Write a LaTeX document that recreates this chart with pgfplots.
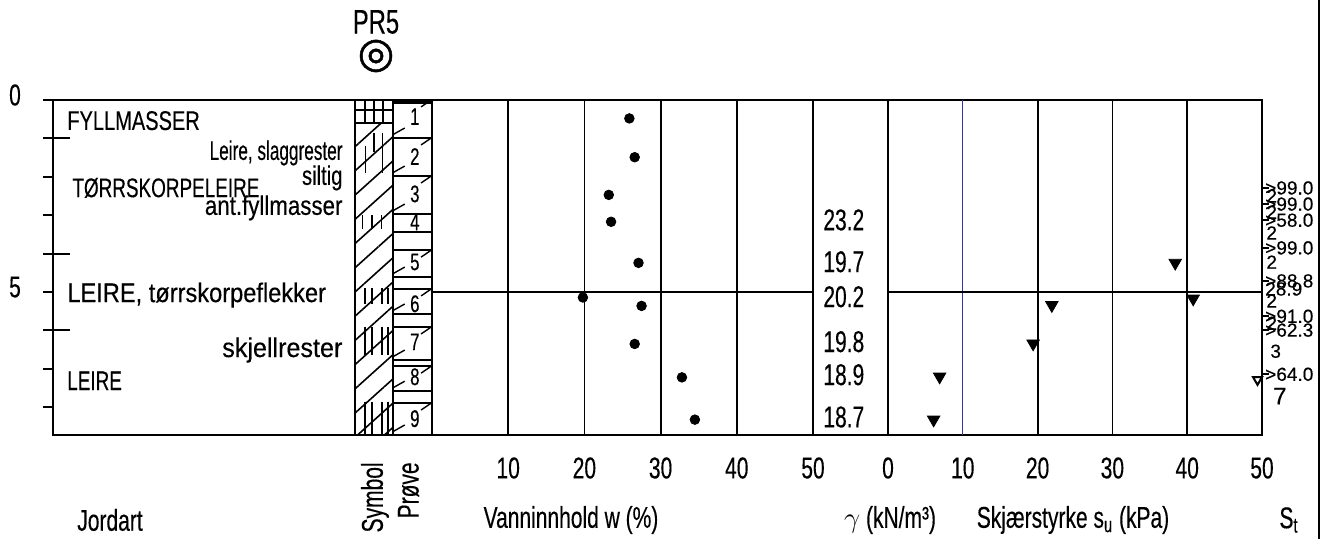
\documentclass[border=0pt]{standalone}
\usepackage{fontspec}
\setmainfont[FakeStretch=0.7,FakeBold=0.3]{Liberation Sans}
\newfontfamily\stfont[FakeStretch=1.0,FakeBold=0.3]{Liberation Sans}
\newfontfamily\symfont[FakeBold=1.2]{DejaVu Sans}
\usepackage{pgfplots}
\pgfplotsset{compat=1.18}
\usetikzlibrary{patterns.meta}
\definecolor{gridblue}{RGB}{50,50,170}
\pgfplotsset{
  colbox/.style={scale only axis, anchor=south west, height=167.5pt,
    ymin=0, ymax=8.72, y dir=reverse, clip=false,
    axis line style={line width=1.3pt, black},
    xtick=\empty, ytick=\empty},
  txt/.style={only marks, mark=none, nodes near coords, point meta=explicit symbolic},
  jt/.style n args={3}{only marks, mark=none, nodes near coords={#3},
    every node near coord/.append style={anchor=#1, xscale=#2, inner sep=0pt, font=\fontsize{13.5}{15}\selectfont}},
  seg/.style={black, line width=0.8pt, unbounded coords=jump, mark=none},
}
\begin{document}
\begin{tikzpicture}
\useasboundingbox (0,0) rectangle (661pt,269.5pt);

% ---------------- Jordart column
\begin{axis}[colbox, at={(26.5pt,52pt)}, width=151pt, xmin=0, xmax=1,
  ytick={0,1,2,3,4,5,6,7,8}, yticklabels={0,,,,,5,,,},
  tickpos=left, tick align=outside, major tick length=5pt,
  major tick style={line width=1pt,black},
  extra y ticks={1,4,6}, extra y tick labels={},
  extra y tick style={tick align=inside, major tick length=8.5pt},
  yticklabel style={anchor=center, xshift=-14pt, yshift=2.5pt, font=\fontsize{15}{17}\selectfont}]
\addplot[jt={base west}{1.06}{FYLLMASSER}] coordinates {(0.046,0.78)};
\addplot[jt={base west}{1}{TØRRSKORPELEIRE}] coordinates {(0.063,2.53)};
\addplot[jt={base west}{1.25}{LEIRE, tørrskorpeflekker}] coordinates {(0.046,5.26)};
\addplot[jt={base west}{1}{LEIRE}] coordinates {(0.046,7.55)};
\addplot[jt={base east}{0.91}{Leire, slaggrester}] coordinates {(0.96,1.56)};
\addplot[jt={base east}{1.07}{siltig}] coordinates {(0.96,2.21)};
\addplot[jt={base east}{1.18}{ant.fyllmasser}] coordinates {(0.96,2.99)};
\addplot[jt={base east}{1.33}{skjellrester}] coordinates {(0.96,6.69)};
\end{axis}

% ---------------- Symbol column
\begin{axis}[colbox, at={(177.5pt,52pt)}, width=19pt, xmin=0, xmax=1]
\addplot[draw=none, pattern={Lines[angle=42,distance=9pt,line width=0.8pt]}]
  coordinates {(0,0.6)(1,0.6)(1,8.72)(0,8.72)};
\addplot[seg] coordinates {(0,0.26)(1,0.26)(nan,nan)(0,0.6)(1,0.6)(nan,nan)(0.26,0)(0.26,0.6)(nan,nan)(0.5,0)(0.5,0.6)(nan,nan)(0.74,0)(0.74,0.6)};
\addplot[seg] coordinates {(0.28,1.2)(0.28,1.9)(nan,nan)(0.5,0.85)(0.5,1.35)(nan,nan)(0.72,0.85)(0.72,1.9)};
\addplot[seg] coordinates {(0.2,3.0)(0.2,3.35)(nan,nan)(0.45,3.0)(0.45,3.35)(nan,nan)(0.7,3.0)(0.7,3.35)};
\addplot[seg] coordinates {(0.26,4.9)(0.26,5.3)(nan,nan)(0.45,4.9)(0.45,5.3)(nan,nan)(0.71,4.9)(0.71,5.3)(nan,nan)(0.87,4.9)(0.87,5.3)};
\addplot[seg] coordinates {(0.26,5.9)(0.26,6.65)(nan,nan)(0.45,5.9)(0.45,6.65)(nan,nan)(0.71,5.9)(0.71,6.65)(nan,nan)(0.87,5.9)(0.87,6.65)};
\addplot[seg] coordinates {(0.26,7.85)(0.26,8.72)(nan,nan)(0.45,7.85)(0.45,8.72)(nan,nan)(0.71,7.85)(0.71,8.72)(nan,nan)(0.87,7.85)(0.87,8.72)};
\end{axis}

% ---------------- Prove column
\begin{axis}[colbox, at={(196.5pt,52pt)}, width=19.5pt, xmin=0, xmax=1]
\addplot[black, line width=2.5pt] coordinates {(0,0.04)(1,0.04)};
\addplot[seg, line width=0.9pt] coordinates {(0,0.99)(1,0.99)(nan,nan)(0,1.98)(1,1.98)(nan,nan)(0,2.97)(1,2.97)(nan,nan)(0,3.44)(1,3.44)(nan,nan)(0,3.91)(1,3.91)(nan,nan)(0,4.61)(1,4.61)(nan,nan)(0,4.92)(1,4.92)(nan,nan)(0,5.57)(1,5.57)(nan,nan)(0,5.91)(1,5.91)(nan,nan)(0,6.77)(1,6.77)(nan,nan)(0,6.93)(1,6.93)(nan,nan)(0,7.58)(1,7.58)(nan,nan)(0,7.89)(1,7.89)};
\addplot[seg, line width=0.7pt] coordinates {(0.02,0.89)(0.3,0.73)(nan,nan)(0.72,0.18)(0.98,0.0)(nan,nan)
 (0.02,1.88)(0.3,1.72)(nan,nan)(0.72,1.17)(0.98,0.99)(nan,nan)
 (0.02,2.87)(0.3,2.71)(nan,nan)(0.72,2.16)(0.98,1.98)(nan,nan)
 (0.02,4.51)(0.3,4.35)(nan,nan)(0.72,4.09)(0.98,3.91)(nan,nan)
 (0.02,5.47)(0.3,5.31)(nan,nan)(0.72,5.10)(0.98,4.92)(nan,nan)
 (0.02,6.67)(0.3,6.51)(nan,nan)(0.72,6.09)(0.98,5.91)(nan,nan)
 (0.02,7.48)(0.3,7.32)(nan,nan)(0.72,7.11)(0.98,6.93)(nan,nan)
 (0.02,8.62)(0.3,8.46)(nan,nan)(0.72,8.07)(0.98,7.89)};
\addplot[txt, every node near coord/.append style={anchor=base, inner sep=0pt, font=\fontsize{12}{14}\selectfont}]
  table[col sep=semicolon, row sep=\\, meta=t] {x;y;t\\0.56;0.65;1\\0.56;1.69;2\\0.56;2.66;3\\0.56;3.39;4\\0.56;4.43;5\\0.56;5.52;6\\0.56;6.51;7\\0.56;7.42;8\\0.56;8.51;9\\};
\end{axis}

% ---------------- Water content
\begin{axis}[colbox, at={(216pt,52pt)}, width=190.5pt, xmin=0, xmax=50,
  xtick={10,20,30,40,50}, major tick length=0pt,
  xticklabel style={anchor=center, yshift=-16.5pt, font=\fontsize{15}{17}\selectfont},
  /pgf/number format/assume math mode=true]
\addplot[seg, line width=0.9pt] coordinates {(10,0)(10,8.72)(nan,nan)(20,0)(20,8.72)(nan,nan)(30,0)(30,8.72)(nan,nan)(40,0)(40,8.72)};
\addplot[black, line width=1.3pt] coordinates {(0,5)(50,5)};
\addplot[only marks, mark=*, mark size=2.4pt, black] coordinates {
 (25.9,0.48)(26.6,1.49)(23.2,2.47)(23.5,3.17)(27.1,4.24)(19.8,5.14)(27.5,5.36)(26.6,6.35)(32.8,7.22)(34.5,8.32)};
\end{axis}

% ---------------- Unit weight
\begin{axis}[colbox, at={(406.5pt,52pt)}, width=37.5pt, xmin=0, xmax=1]
\addplot[txt, every node near coord/.append style={anchor=base west, inner sep=0pt, font=\fontsize{15}{17}\selectfont}]
  table[col sep=semicolon, row sep=\\, meta=t] {x;y;t\\0.133;3.39;23.2\\0.133;4.48;19.7\\0.133;5.39;20.2\\0.133;6.56;19.8\\0.133;7.42;18.9\\0.133;8.52;18.7\\};
\end{axis}

% ---------------- Shear strength
\begin{axis}[colbox, at={(444pt,52pt)}, width=187pt, xmin=0, xmax=50,
  xtick={0,10,20,30,40,50}, major tick length=0pt,
  xticklabel style={anchor=center, yshift=-16.5pt, font=\fontsize{15}{17}\selectfont},
  /pgf/number format/assume math mode=true]
\addplot[seg, line width=0.9pt] coordinates {(20,0)(20,8.72)(nan,nan)(30,0)(30,8.72)(nan,nan)(40,0)(40,8.72)};
\addplot[gridblue, line width=0.6pt] coordinates {(10,0)(10,8.72)};
\addplot[black, line width=1.3pt] coordinates {(0,5)(50,5)};
\addplot[only marks, mark=triangle*, mark size=3.6pt, mark options={rotate=180, fill=black}, black] coordinates {
 (38.4,4.24)(40.8,5.17)(21.9,5.34)(19.4,6.34)(6.9,7.2)(6.1,8.32)};
\addplot[only marks, mark=triangle, mark size=2.6pt, mark options={rotate=180, line width=1pt}, black] coordinates {(49.4,7.28)};
\end{axis}

% ---------------- Sensitivity column
\begin{axis}[scale only axis, anchor=south west, at={(631pt,52pt)}, width=28.5pt, height=167.5pt,
  xmin=0, xmax=1, ymin=0, ymax=8.72, y dir=reverse, clip=false,
  axis x line=none, axis y line*=left, axis line style={line width=1.3pt, black},
  xtick=\empty, ytick={2.29,2.71,3.13,3.85,4.71,5.63,5.99,7.14}, yticklabels={},
  tick align=inside, major tick length=3.5pt, major tick style={line width=0.8pt, black}]
\addplot[txt, every node near coord/.append style={anchor=west, inner sep=0pt, font=\stfont\fontsize{9.5}{11}\selectfont}]
  table[col sep=semicolon, row sep=\\, meta=t] {x;y;t\\
0.05;2.29;>99.0\\0.07;2.50;2\\0.05;2.71;>99.0\\0.07;2.92;2\\0.05;3.13;>58.0\\0.07;3.46;2\\
0.05;3.85;>99.0\\0.07;4.22;2\\0.05;4.71;>88.8\\0.05;4.92;28.9\\0.07;5.23;2\\0.05;5.63;>91.0\\
0.07;5.81;2\\0.05;5.99;>62.3\\0.14;6.54;3\\0.05;7.14;>64.0\\0.19;7.71;\fontsize{12}{14}\selectfont 7\\};
\end{axis}

% right border
\draw[line width=1pt] (659.5pt,0) -- (659.5pt,269.5pt);

% titles and column labels
\node[font=\fontsize{17}{19}\selectfont, inner sep=0pt] at (188pt,258.5pt) {PR5};
\node[font=\symfont\fontsize{21}{23}\selectfont, inner sep=0pt] at (188pt,241.5pt) {◎};
\node[font=\fontsize{15}{17}\selectfont] at (55pt,9.5pt) {Jordart};
\node[rotate=90, anchor=east, inner sep=0pt, font=\fontsize{15}{17}\selectfont] at (187.5pt,38.5pt) {Symbol};
\node[rotate=90, anchor=east, inner sep=0pt, font=\fontsize{15}{17}\selectfont] at (204.25pt,38.5pt) {Prøve};
\node[font=\fontsize{15}{17}\selectfont] at (285.5pt,9.5pt) {Vanninnhold w (\%)};
\node[font=\fontsize{15}{17}\selectfont] at (445pt,9.5pt) {$\gamma$ (kN/m³)};
\node[font=\fontsize{15}{17}\selectfont] at (536.5pt,9.5pt) {Skjærstyrke s\textsubscript{u} (kPa)};
\node[font=\fontsize{15}{17}\selectfont] at (644.5pt,9.5pt) {S\textsubscript{t}};
\end{tikzpicture}
\end{document}
